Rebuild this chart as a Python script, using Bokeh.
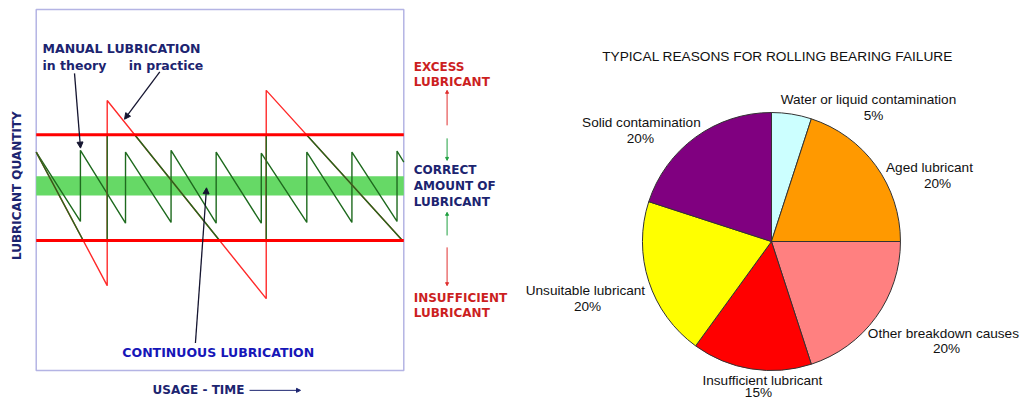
import math
from bokeh.plotting import figure
from bokeh.layouts import row
from bokeh.models import Range1d, Arrow, NormalHead, ColumnDataSource
from bokeh.core.properties import value
from bokeh.embed import file_html
from bokeh.resources import INLINE

# ---------------- data: lubrication chart ----------------
T_END = 8.15          # time span of the box (theory period = 1)
Q_MAX = 100.0
upper_limit = 65.3    # excess above
lower_limit = 36.0    # insufficient below
band_low, band_high = 48.5, 53.8   # continuous lubrication band

theory_t = [0.00, 0.98, 0.98, 1.98, 1.98, 2.99, 2.99, 3.99, 3.99, 4.99, 4.99,
            6.00, 6.00, 7.00, 7.00, 8.00, 8.00, 8.15]
theory_q = [60.5, 41.3, 61.0, 40.8, 60.5, 41.0, 61.0, 40.8, 60.5, 40.8, 60.2,
            41.0, 60.5, 41.0, 60.5, 41.3, 60.8, 57.7]

practice_t = [0.00, 1.574, 1.574, 5.10, 5.10, 8.12]
practice_q = [60.5, 23.5, 74.8, 19.9, 77.6, 36.0]

# ---------------- data: pie chart ----------------
reasons = ["Water or liquid contamination", "Aged lubricant", "Other breakdown causes",
           "Insufficient lubricant", "Unsuitable lubricant", "Solid contamination"]
shares = [5, 20, 20, 15, 20, 20]
slice_colors = ["#ccffff", "#ff9900", "#ff8080", "#ff0000", "#ffff00", "#800080"]

# label placement (in pie-radius units, layout only)
name_x = [0.752, 1.225, 1.333, -0.070, -1.442, -1.008]
name_y = [1.101, 0.574, -0.713, -1.080, -0.380, 0.922]
pct_x = [0.791, 1.287, 1.357, -0.101, -1.426, -1.016]
pct_y = [0.977, 0.450, -0.829, -1.168, -0.504, 0.798]

NAVY = "#1c2470"
BLUE = "#1616b8"
DRED = "#cc1f1f"
RED = "#ff0000"
DGREEN = "#1e6a1e"
BOLD = value("DejaVu Sans")


def split_inside(ts, qs, lo, hi):
    xs, ys = [], []
    for i in range(len(ts) - 1):
        t0, q0, t1, q1 = ts[i], qs[i], ts[i + 1], qs[i + 1]
        if q0 == q1:
            if lo <= q0 <= hi:
                xs.append([t0, t1]); ys.append([q0, q1])
            continue
        s_lo = (lo - q0) / (q1 - q0)
        s_hi = (hi - q0) / (q1 - q0)
        sa = max(0.0, min(s_lo, s_hi))
        sb = min(1.0, max(s_lo, s_hi))
        if sa < sb:
            xs.append([t0 + sa * (t1 - t0), t0 + sb * (t1 - t0)])
            ys.append([q0 + sa * (q1 - q0), q0 + sb * (q1 - q0)])
    return xs, ys


# ---------------- left figure ----------------
left = figure(width=515, height=401, output_backend="svg", toolbar_location=None,
              x_range=Range1d(-0.792, 10.627), y_range=Range1d(-8.59, 102.49),
              x_axis_location=None, y_axis_location=None, min_border=0,
              outline_line_color=None, background_fill_color="white",
              border_fill_color="white")
left.xgrid.grid_line_color = None
left.ygrid.grid_line_color = None

# box
left.quad(left=0, right=T_END, bottom=0, top=Q_MAX, fill_alpha=0,
          line_color="#b4b4e4", line_width=1.5)
# continuous band
left.quad(left=0, right=T_END, bottom=band_low, top=band_high,
          fill_color="#66d966", line_color=None)
# theory sawtooth
left.line(theory_t, theory_q, line_color=DGREEN, line_width=1.4)
# practice sawtooth: red outside the limits, green inside
left.line(practice_t, practice_q, line_color="#ff2a2a", line_width=1.4)
gx, gy = split_inside(practice_t, practice_q, lower_limit, upper_limit)
left.multi_line(gx, gy, line_color=DGREEN, line_width=1.4)
# limit lines
left.multi_line([[0, T_END], [0, T_END]], [[upper_limit, upper_limit], [lower_limit, lower_limit]],
                line_color=RED, line_width=3)


def txt(fig, x, y, s, color, size="12px", align="left", angle=0.0, font=BOLD, style="bold"):
    fig.text(x=[x], y=[y], text=[s], text_color=color, text_font=font,
             text_font_style=style, text_font_size=size, text_align=align,
             text_baseline="middle", angle=angle)


txt(left, 0.14, 89.2, "MANUAL LUBRICATION", NAVY, "12.5px")
txt(left, 0.14, 84.6, "in theory", NAVY, "12.5px")
txt(left, 2.05, 84.6, "in practice", NAVY, "12.5px")
txt(left, 1.91, 5.0, "CONTINUOUS LUBRICATION", BLUE, "12.5px")
txt(left, 2.58, -5.3, "USAGE - TIME", NAVY, "12px")
txt(left, -0.43, 51.2, "LUBRICANT QUANTITY", NAVY, "12px", "center", math.pi / 2)

txt(left, 8.37, 84.2, "EXCESS", DRED)
txt(left, 8.37, 79.8, "LUBRICANT", DRED)
txt(left, 8.37, 55.4, "CORRECT", NAVY)
txt(left, 8.37, 51.0, "AMOUNT OF", NAVY)
txt(left, 8.37, 46.8, "LUBRICANT", NAVY)
txt(left, 8.37, 20.2, "INSUFFICIENT", DRED)
txt(left, 8.37, 15.8, "LUBRICANT", DRED)


def arrow(fig, x0, y0, x1, y1, color, width=1.3, size=6):
    fig.add_layout(Arrow(end=NormalHead(size=size, fill_color=color, line_color=color),
                         x_start=x0, y_start=y0, x_end=x1, y_end=y1,
                         line_color=color, line_width=width))


arrow(left, 0.849, 82.3, 0.982, 61.6, "#151530")
arrow(left, 2.74, 82.7, 1.958, 69.6, "#151530")
arrow(left, 3.53, 7.6, 3.776, 50.6, "#151530")
arrow(left, 4.73, -5.5, 5.86, -5.5, NAVY, 1.0, 4)

arrow(left, 9.11, 67.9, 9.11, 77.6, "#e03030", 1.0, 3)
arrow(left, 9.11, 64.3, 9.11, 58.2, "#20a040", 1.0, 3)
arrow(left, 9.11, 37.4, 9.11, 43.8, "#20a040", 1.0, 3)
arrow(left, 9.11, 34.1, 9.11, 23.5, "#e03030", 1.0, 3)

# ---------------- right figure (pie) ----------------
right = figure(width=507, height=401, output_backend="svg", toolbar_location=None,
               x_range=Range1d(-1.984, 1.946), y_range=Range1d(-1.240, 1.868),
               x_axis_location=None, y_axis_location=None, min_border=0,
               outline_line_color=None, background_fill_color="white",
               border_fill_color="white")
right.xgrid.grid_line_color = None
right.ygrid.grid_line_color = None

total = float(sum(shares))
starts, ends = [], []
cum = 0.0
for s in shares:
    starts.append(math.pi / 2 - 2 * math.pi * cum / total)
    cum += s
    ends.append(math.pi / 2 - 2 * math.pi * cum / total)

src = ColumnDataSource(dict(start=starts, end=ends, color=slice_colors))
right.wedge(x=0, y=0, radius=1.0, start_angle="start", end_angle="end",
            direction="clock", fill_color="color", line_color="#333333",
            line_width=1, source=src)

SANS = value("Liberation Sans")
txt(right, 0.047, 1.434, "TYPICAL REASONS FOR ROLLING BEARING FAILURE", "#111111",
    "13.7px", "center", font=SANS, style="normal")
for i, name in enumerate(reasons):
    txt(right, name_x[i], name_y[i], name, "#111111", "13.6px", "center", font=SANS, style="normal")
    txt(right, pct_x[i], pct_y[i], f"{shares[i]}%", "#111111", "13.6px", "center",
        font=SANS, style="normal")

layout = row(left, right)
open("out.html", "w").write(file_html(layout, INLINE))
